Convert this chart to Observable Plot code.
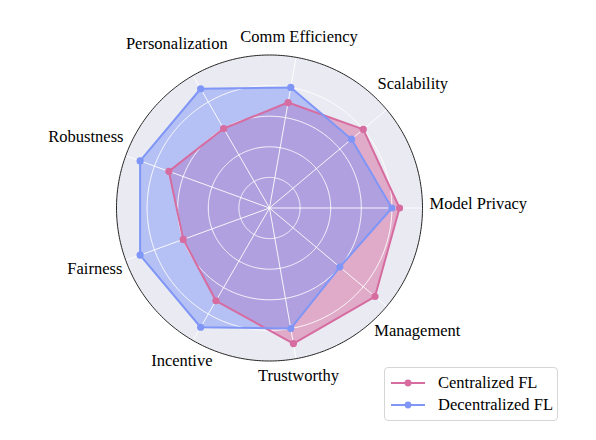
<!DOCTYPE html>
<html>
<head>
<meta charset="utf-8">
<script src="https://cdn.jsdelivr.net/npm/d3@7"></script>
<script src="https://cdn.jsdelivr.net/npm/@observablehq/plot@0.6"></script>
<style>
  html, body { margin: 0; padding: 0; background: #ffffff; }
  #wrap { position: relative; width: 596px; height: 440px; }
  #wrap svg text { font-family: 'Liberation Serif', 'Times New Roman', serif; }
  #legend {
    position: absolute; left: 384px; top: 367px; width: 172px; height: 52px;
    border: 1px solid #d6d6d6; border-radius: 4px; background: rgba(255,255,255,0.85);
    font-family: 'Liberation Serif', 'Times New Roman', serif; font-size: 16.5px; color: #000;
  }
  .lrow { position: absolute; left: 0; height: 20px; width: 100%; }
  .lrow svg { position: absolute; left: 5px; top: 5px; }
  .lrow span { position: absolute; left: 53px; top: 0px; line-height: 20px; white-space: nowrap; }
</style>
</head>
<body>
<div id="wrap"></div>
<script>
// ---- data ----
const axesNames = ["Model Privacy", "Scalability", "Comm Efficiency", "Personalization", "Robustness", "Fairness", "Incentive", "Trustworthy", "Management"];
const centralized   = [8.5, 8, 7, 6, 7, 6, 7, 9, 9];
const decentralized = [8, 7, 8, 9, 9, 9, 9, 8, 6];
const seriesNames = ["Centralized FL", "Decentralized FL"];
const seriesColors = ["#d66ca0", "#8096f6"];
const ringTicks = [2, 4, 6, 8];
const rMax = 10;

// ---- layout ----
const W = 596, H = 440;
const cx = 269, cy = 207.5, Rpx = 153;
const k = Rpx / rMax;
const fontFamily = "Liberation Serif";
const fontSize = 16.5;

const theta = axesNames.map((_, i) => i * 2 * Math.PI / axesNames.length);
const seriesValues = [centralized, decentralized];
const seriesPoints = seriesValues.map((vals, s) =>
  vals.map((v, i) => ({name: seriesNames[s], axis: axesNames[i], x: v * Math.cos(theta[i]), y: v * Math.sin(theta[i])})));

const circlePts = (r) => d3.range(0, 360, 1).map(a => ({r, x: r * Math.cos(a * Math.PI / 180), y: r * Math.sin(a * Math.PI / 180)}));
const rings = ringTicks.flatMap(circlePts);
const outer = circlePts(rMax);

// label placement: centered on the ray, pushed out by half the text extent
const ctx = document.createElement("canvas").getContext("2d");
ctx.font = `${fontSize}px 'Liberation Serif'`;
const labels = axesNames.map((a, i) => {
  const w = ctx.measureText(a).width;
  const t = theta[i];
  const rp = 160 + (w / 2) * Math.abs(Math.cos(t));
  const s = Math.sin(t);
  const down = -4 + 7 * Math.pow(Math.max(0, -s), 2); // px, downward
  return {a, x: (rp / k) * Math.cos(t), y: (rp / k) * s - down / k};
});

const marks = [
  Plot.line(outer, {x: "x", y: "y", curve: "linear-closed", fill: "#eaeaf2", stroke: "none"}),
];
seriesPoints.forEach((pts, s) => {
  marks.push(Plot.line(pts, {x: "x", y: "y", curve: "linear-closed", fill: seriesColors[s], fillOpacity: 0.5, stroke: "none"}));
});
marks.push(
  Plot.line(rings, {x: "x", y: "y", z: "r", curve: "linear-closed", stroke: "white", strokeWidth: 1, strokeOpacity: 0.9}),
  Plot.link(theta, {x1: 0, y1: 0, x2: t => rMax * Math.cos(t), y2: t => rMax * Math.sin(t), stroke: "white", strokeWidth: 1, strokeOpacity: 0.9}),
  Plot.line(outer, {x: "x", y: "y", curve: "linear-closed", stroke: "#262626", strokeWidth: 1})
);
seriesPoints.forEach((pts, s) => {
  marks.push(
    Plot.line(pts, {x: "x", y: "y", curve: "linear-closed", stroke: seriesColors[s], strokeWidth: 2}),
    Plot.dot(pts, {x: "x", y: "y", r: 3.6, fill: seriesColors[s], stroke: "none"})
  );
});
marks.push(
  Plot.text(labels, {x: "x", y: "y", text: "a", textAnchor: "middle", lineAnchor: "middle", fontSize: fontSize, fontFamily: fontFamily, fill: "#000"})
);

const chart = Plot.plot({
  width: W, height: H,
  marginTop: 0, marginRight: 0, marginBottom: 0, marginLeft: 0,
  x: {domain: [-cx / k, (W - cx) / k], axis: null},
  y: {domain: [-(H - cy) / k, cy / k], axis: null},
  style: {background: "white", fontFamily: fontFamily, overflow: "visible"},
  marks
});
const wrap = document.getElementById("wrap");
wrap.appendChild(chart);

// legend
const legend = document.createElement("div");
legend.id = "legend";
seriesNames.forEach((n, s) => {
  const row = document.createElement("div");
  row.className = "lrow";
  row.style.top = (5 + s * 22) + "px";
  row.innerHTML = `<svg width="36" height="10"><line x1="1" y1="5" x2="35" y2="5" stroke="${seriesColors[s]}" stroke-width="2"/><circle cx="18" cy="5" r="3.4" fill="${seriesColors[s]}"/></svg><span>${n}</span>`;
  legend.appendChild(row);
});
wrap.appendChild(legend);
</script>
</body>
</html>
